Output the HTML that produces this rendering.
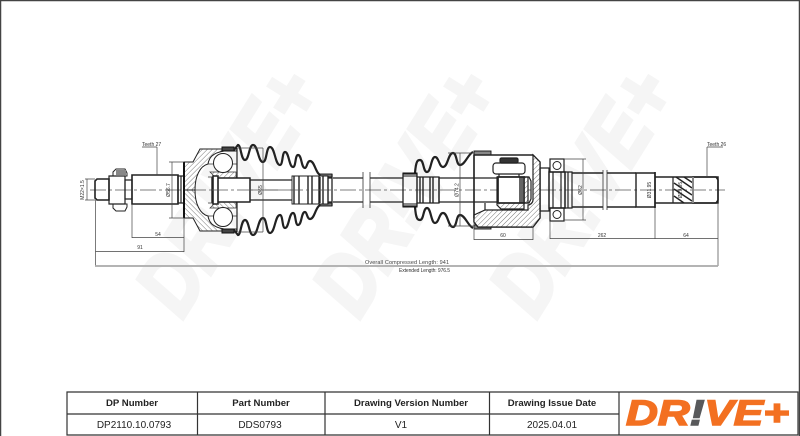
<!DOCTYPE html>
<html><head><meta charset="utf-8"><style>
html,body{margin:0;padding:0;background:#fff}
svg{display:block}
text{font-family:"Liberation Sans",sans-serif}
.d{font-size:5px;fill:#333}
.t{font-size:10px;fill:#222;text-anchor:middle}
.b{font-size:9.6px;font-weight:bold;fill:#222;text-anchor:middle}
</style></head><body>
<svg width="800" height="436" viewBox="0 0 800 436" xmlns="http://www.w3.org/2000/svg">
<defs>
<pattern id="h" patternUnits="userSpaceOnUse" width="3.5" height="3.5" patternTransform="rotate(-45)">
<rect width="3.5" height="3.5" fill="#fff"/><line x1="0" y1="0" x2="3.5" y2="0" stroke="#777" stroke-width="1"/>
</pattern>
<g id="cvh">
<path d="M184,190V162H193L200,149H237V151H224C212,153 209,158 208,164C200,166 195,176 195,190Z" fill="url(#h)" stroke="#222" stroke-width="1"/>
<path d="M184,162V190" stroke="#111" stroke-width="2" fill="none"/>
<rect x="222" y="147" width="12" height="4" fill="#444" stroke="#111"/>
<path d="M208,164H237M208,177H237" fill="none" stroke="#333" stroke-width=".8"/>
<path d="M210,172H236V178H216Z" fill="url(#h)" stroke="#333" stroke-width=".7"/>
<circle cx="223" cy="163" r="9.5" fill="#fff" stroke="#222"/>
<path d="M237,148V190" stroke="#222" stroke-width="1.2"/>
<path d="M234,150L238,145C241,145 241,160 245,160C249,160 249,145 253,145C258,145 258,162 263,162C267,162 266,147 270,147C275,147 275,165 280,165C283,165 282,152 285,152C289,152 289,167 293,167C296,167 295,155 298,155C302,155 301,168 305,168C307,168 307,161 310,161C315,161 315,174 322,176" fill="none" stroke="#222" stroke-width="2.200"/>
<rect x="320" y="174" width="12" height="3" fill="#777" stroke="#111" stroke-width=".9"/>
<path d="M415,173C416,160 418,160 420,160C424,160 423,172 427,172C431,172 431,157 435,157C439,157 439,167 443,167C448,167 448,153 453,153C457,153 456,165 460,165C465,165 468,154 473,152" fill="none" stroke="#222" stroke-width="2.200"/>
<rect x="474" y="151" width="17" height="4" fill="#888" stroke="#111" stroke-width=".9"/>
<rect x="403" y="173" width="14" height="3" fill="#fff" stroke="#111"/>
<rect x="550" y="159" width="14" height="13" fill="#fff" stroke="#222" stroke-width="1.2"/>
<circle cx="557" cy="165.500" r="4" fill="#fff" stroke="#222"/>
</g>
</defs>
<rect width="800" height="436" fill="#fff"/>
<g fill="#f5f5f5" stroke="#f5f5f5" stroke-width="4" font-family="Liberation Sans" font-weight="bold" font-style="italic" font-size="86">
<text transform="translate(182,320) rotate(-58)" textLength="268" lengthAdjust="spacingAndGlyphs">DR!VE+</text>
<text transform="translate(359,320) rotate(-58)" textLength="268" lengthAdjust="spacingAndGlyphs">DR!VE+</text>
<text transform="translate(536,320) rotate(-58)" textLength="268" lengthAdjust="spacingAndGlyphs">DR!VE+</text>
</g>
<path d="M.5,436V.5H799.500V436" fill="none" stroke="#444" stroke-width="1.500"/>

<!-- centreline -->
<path d="M90,190H725" stroke="#555" stroke-width=".8" stroke-dasharray="16 3 3 3" fill="none"/>

<g fill="none" stroke="#222" stroke-width="1.200">
<!-- left end -->
<path d="M97,179H109V200H97L95,198V181Z" stroke-width="1.600"/>
<path d="M109,176H125V204H109Z" />
<path d="M113,172L116,169H125L127,173V176H113ZM113,204H127V207L125,211H116L113,208Z" stroke-width="1"/>
<path d="M116,170H126V175H116Z" fill="#888" stroke="none"/>
<path d="M125,180H132V199H125Z"/>
<path d="M132,175H178V204H132Z" stroke-width="1.600"/>
<path d="M178,176H184V203H178Z"/>
<path d="M181,176V203"/>
</g>

<use href="#cvh"/>
<use href="#cvh" transform="translate(0,380) scale(1,-1)"/>

<g fill="none" stroke="#222" stroke-width="1.200">
<!-- left stem -->
<path d="M212,178H250V202H212Z" stroke-width="1.400" fill="#fff"/>
<path d="M213,176H218V204H213Z" stroke-width="1.600" fill="#fff"/>
<path d="M250,180H292M250,200H292M250,178V202" />
<path d="M292,178H332M292,202H332M333,178H363M333,202H363M370,178H403M370,202H403" stroke-width="1.300"/>
<path d="M292,176H328V204H292Z" fill="#fff" stroke-width=".9"/>
<path d="M294,176V204M299,176V204M308,176V204M312,176V204M319,176V204M323,176V204M328,176V204" stroke-width="1.400"/>
<path d="M320,177V203M332,174V206" stroke-width="1.300"/>
<path d="M363,172V208M370,172V208" stroke="#333" stroke-width=".8"/>
<!-- centreline repaint over stem -->
<path d="M212,190H330" stroke="#555" stroke-width=".8" stroke-dasharray="16 3 3 3"/>

<!-- inner shaft -->
<path d="M403,174H417V206H403Z" stroke-width="1.300"/>
<path d="M417,177H439V203H417Z"/>
<path d="M420,177V203M423,177V203M430,177V203M433,177V203M439,177V203" stroke-width="1.400"/>
<path d="M439,178H497M439,202H497" stroke-width="1.200"/>

<!-- tripod housing -->
<path d="M474,155H533L540,162V218L533,227H478L474,222Z" stroke-width="1.400"/>
<path d="M474,215L485,210H528V205C530,205 533,203 533,200V155L540,162V218L533,227H478L474,222Z" fill="url(#h)" stroke-width="1.200"/>
<path d="M474,155V218" stroke-width="1.400"/>
<path d="M485,210V203" />
<rect x="493" y="163" width="32" height="11" rx="3" fill="#fff"/>
<rect x="500" y="158" width="18" height="5" rx="1.500" fill="#333"/>
<path d="M497,177H528V203H524V209H501L497,205Z" fill="url(#h)" />
<rect x="498" y="177" width="26" height="26" fill="#fff" stroke-width="1.700"/>
<path d="M520,177V203M522,177V203" stroke-width="1.400"/>
<path d="M524,177H529L531,181V199L529,203H524" />
<path d="M499,174V177M519,174V177" />

<!-- right side -->
<path d="M540,168H549V211H540Z"/>
<path d="M549,172H565V208H549Z" stroke-width="1.400"/>
<path d="M553,172V208M561,172V208"/>
<path d="M565,172H572V208H565Z"/>
<path d="M568,172V208"/>
<path d="M572,173H603M572,207H603M607,173H636M607,207H636" stroke-width="1.400"/>
<path d="M603,170V210M607,170V210" stroke="#333" stroke-width=".8"/>
<path d="M636,173H655V207H636Z" stroke-width="1.400"/>
<path d="M655,177H718L718,203H655" stroke-width="1.500"/>
<path d="M655,172V208" stroke-width="1.600"/>
<path d="M673,177V203M693,177V203"/>
<path d="M693,177H716L718,180V200L716,203H693Z" stroke-width="1.500"/>
</g>
<g stroke="#222" stroke-width="1.400">
<path d="M674,183L692,195M674,189L692,201M676,177L692,188M684,177L693,183M674,196L684,203"/>
</g>
<rect x="692" y="177" width="2" height="26" fill="#888"/>

<!-- dimension lines -->
<g fill="none" stroke="#444" stroke-width=".7">
<path d="M87,179V200M85,179H95M85,200H95"/>
<path d="M172,162V218M169,162H184M169,218H184"/>
<path d="M263,148V232"/>
<path d="M238,148H263M238,232H263"/>
<path d="M460,153V226M448,153H474M448,226H474"/>
<path d="M583,159V220M564,159H586M564,220H586"/>
<path d="M95.500,200V266M132,204V238M184,218V252"/>
<path d="M132,237.500H184M95.500,251.500H184"/>
<path d="M474,222V240M533,227V240M474,239.500H533"/>
<path d="M550,221V239M655,208V239M718,203V266M550,238.500H718"/>
<path d="M157,147V175M142,147H157"/>
<path d="M707,147V177M707,147H723"/>
</g>
<path d="M95,266H718" stroke="#aaa" stroke-width="1.800" fill="none"/>

<g class="d">
<text class="d" transform="translate(84,190) rotate(-90)" text-anchor="middle" font-size="5">M22×1.5</text>
<text class="d" transform="translate(170,190) rotate(-90)" text-anchor="middle">Ø56.7</text>
<text class="d" transform="translate(262,190) rotate(-90)" text-anchor="middle">Ø65</text>
<text class="d" transform="translate(458.500,190) rotate(-90)" text-anchor="middle">Ø74.2</text>
<text class="d" transform="translate(582,190) rotate(-90)" text-anchor="middle">Ø62</text>
<text class="d" transform="translate(651,190) rotate(-90)" text-anchor="middle">Ø31.95</text>
<text class="d" transform="translate(682,190) rotate(-90)" text-anchor="middle">Ø29.95</text>
<text class="d" x="158" y="236" text-anchor="middle">54</text>
<text class="d" x="140" y="249" text-anchor="middle">91</text>
<text class="d" x="503" y="237" text-anchor="middle">60</text>
<text class="d" x="602" y="237" text-anchor="middle">262</text>
<text class="d" x="686" y="237" text-anchor="middle">64</text>
<text class="d" x="142" y="146">Teeth 27</text>
<text class="d" x="707" y="146">Teeth 26</text>
<text x="365" y="264" font-size="5.500" fill="#444" textLength="84">Overall  Compressed  Length: 941</text>
<text x="399" y="272" font-size="5" fill="#333" textLength="51">Extended Length: 976.5</text>
</g>

<!-- table -->
<path d="M67,392H798V435H67ZM67,414H619M197.500,392V435M325,392V435M489.500,392V435M619,392V435" fill="none" stroke="#333" stroke-width="1.200"/>
<text class="b" x="132" y="406">DP Number</text>
<text class="b" x="261" y="406">Part Number</text>
<text class="b" x="411" y="406">Drawing Version Number</text>
<text class="b" x="552" y="406">Drawing Issue Date</text>
<text class="t" x="134" y="428">DP2110.10.0793</text>
<text class="t" x="260" y="428">DDS0793</text>
<text class="t" x="401" y="428">V1</text>
<text class="t" x="552" y="428">2025.04.01</text>

<!-- logo -->
<text x="626" y="425" font-size="35" font-weight="bold" font-style="italic" fill="#f37021" stroke="#f37021" stroke-width="1.500" textLength="163" lengthAdjust="spacingAndGlyphs">DR<tspan fill="#58595b" stroke="#58595b">!</tspan>VE+</text>
</svg>
</body></html>
